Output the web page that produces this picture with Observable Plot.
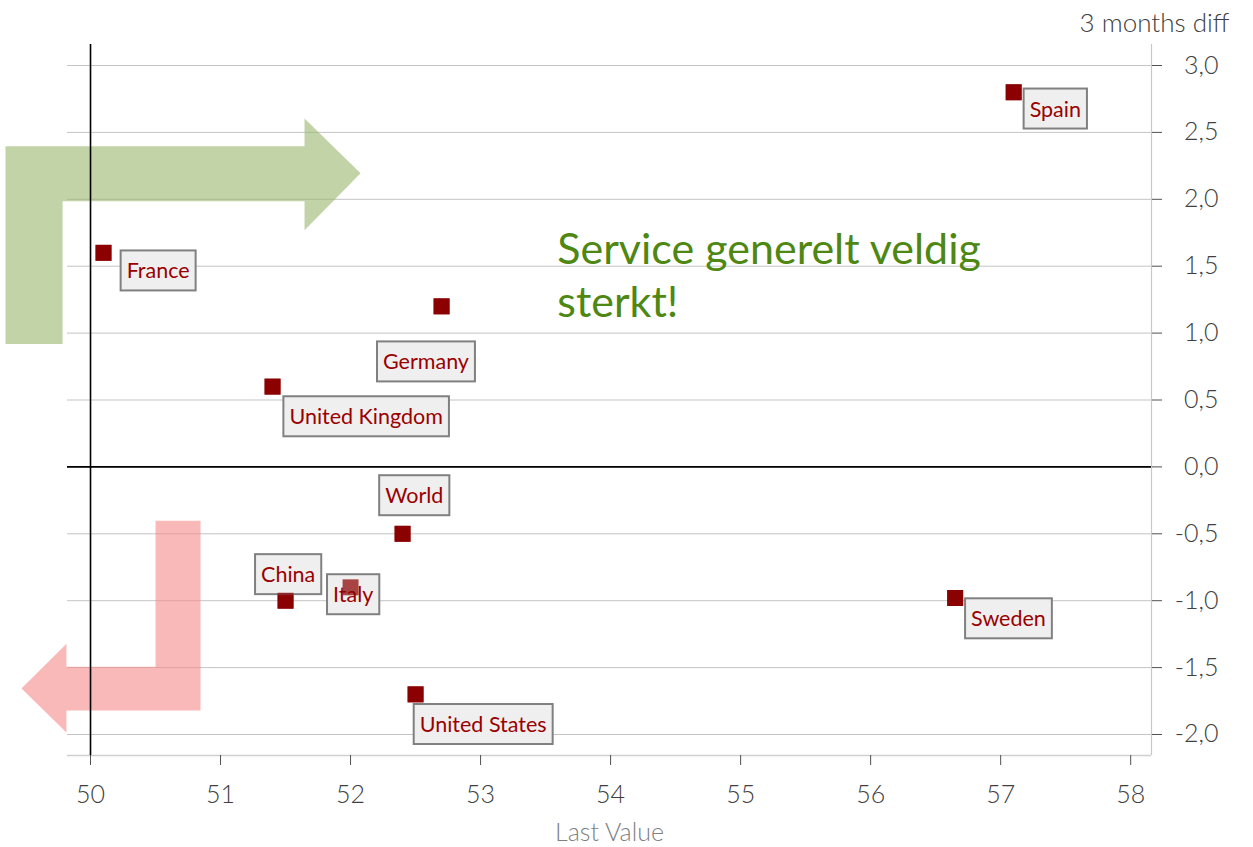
<!DOCTYPE html>
<html>
<head>
<meta charset="utf-8">
<script src="https://cdn.jsdelivr.net/npm/d3@7"></script>
<script src="https://cdn.jsdelivr.net/npm/@observablehq/plot@0.6"></script>
<style>
  html, body { margin: 0; padding: 0; background: #fff; }
  #chart svg { display: block; }
</style>
</head>
<body>
<div id="chart"></div>
<script>
// ---- data ----
const countries = ["Spain", "France", "Germany", "United Kingdom", "World", "China", "Italy", "Sweden", "United States"];
const lastValue = [57.1, 50.1, 52.7, 51.4, 52.4, 51.5, 52.0, 56.65, 52.5];
const diff3m    = [2.8, 1.6, 1.2, 0.6, -0.5, -1.0, -0.9, -0.98, -1.7];
// label box centres (data units)
const labelX = [57.42, 50.52, 52.58, 52.12, 52.49, 51.52, 52.02, 57.06, 53.02];
const labelY = [2.67, 1.46, 0.78, 0.37, -0.22, -0.81, -0.96, -1.14, -1.93];

const xTicks = [50, 51, 52, 53, 54, 55, 56, 57, 58];
const yTicks = [-2.0, -1.5, -1.0, -0.5, 0.0, 0.5, 1.0, 1.5, 2.0, 2.5, 3.0];
const xDomain = [49.823, 58.16];
const yDomain = [-2.157, 3.157];

// annotation arrows (data units)
const greenArrowX = [49.346, 49.346, 51.646, 51.646, 52.077, 51.646, 51.646, 49.785, 49.785];
const greenArrowY = [0.918, 2.396, 2.396, 2.604, 2.194, 1.769, 1.985, 1.985, 0.918];
const redArrowX = [50.846, 50.846, 50.5, 50.5, 49.815, 49.815, 49.469, 49.815, 49.815];
const redArrowY = [-1.821, -0.403, -0.403, -1.493, -1.493, -1.321, -1.657, -1.985, -1.821];

const annotationText = "Service generelt veldig\nsterkt!";
const annotationX = 53.59;
const annotationY = 1.80;
const xLabel = "Last Value";
const yLabel = "3 months diff";

// ---- build tables ----
const points = countries.map((c, i) => ({name: c, x: lastValue[i], y: diff3m[i], lx: labelX[i], ly: labelY[i]}));
const greenArrow = greenArrowX.map((x, i) => ({x, y: greenArrowY[i]}));
const redArrow = redArrowX.map((x, i) => ({x, y: redArrowY[i]}));

const fmt = d => d.toFixed(1).replace(".", ",");
const font = "Lato, 'Open Sans', sans-serif";

const chart = Plot.plot({
  width: 1253,
  height: 847,
  marginTop: 44,
  marginRight: 102,
  marginBottom: 92,
  marginLeft: 67,
  style: {fontFamily: font, background: "#fff"},
  x: {domain: xDomain},
  y: {domain: yDomain},
  marks: [
    Plot.gridY(yTicks, {stroke: "#c4c4c4", strokeOpacity: 1, strokeWidth: 1}),
    Plot.ruleY([yDomain[0]], {stroke: "#d0d0d0", strokeWidth: 1.5}),
    Plot.ruleX([xDomain[1]], {stroke: "#c8c8c8", strokeWidth: 1.2}),
    Plot.axisX({ticks: xTicks, tickSize: 10, tickPadding: 20, fontSize: 25, fontWeight: 300,
      color: "#404040", stroke: "#505050", label: null, tickFormat: d => String(d)}),
    Plot.axisY({anchor: "right", ticks: yTicks, tickSize: 10, tickPadding: 57, textAnchor: "end",
      fontSize: 25, fontWeight: 300, color: "#404040", stroke: "#505050", label: null, tickFormat: fmt}),
    Plot.line(greenArrow, {x: "x", y: "y", fill: "#99b66e", fillOpacity: 0.6, stroke: "none"}),
    Plot.line(redArrow, {x: "x", y: "y", fill: "#f78a8a", fillOpacity: 0.6, stroke: "none"}),
    Plot.ruleY([0], {stroke: "#000", strokeWidth: 1.6}),
    Plot.ruleX([50], {stroke: "#000", strokeWidth: 1.6}),
    Plot.dot(points, {x: "x", y: "y", symbol: "square", r: 9, fill: "#8b0000", stroke: "none"}),
    Plot.text(points, {x: "lx", y: "ly", text: "name", fontSize: 21.5, fill: "#9a0000"}),
    Plot.dot(points, {x: "x", y: "y", symbol: "square", r: 9, fill: "#8b0000", fillOpacity: 0.72, stroke: "none"}),
    Plot.text([annotationText], {x: () => annotationX, y: () => annotationY, text: d => d, textAnchor: "start",
      lineAnchor: "top", lineHeight: 1.23, fontSize: 43, fill: "#4e8712"}),
    Plot.text([yLabel], {frameAnchor: "top-right", text: d => d, textAnchor: "end", dx: 78, dy: -31,
      fontSize: 26, fontWeight: 300, fill: "#404040"}),
    Plot.text([xLabel], {frameAnchor: "bottom", text: d => d, dy: 85, fontSize: 25, fontWeight: 300, fill: "#7f7f7f"})
  ]
});

document.getElementById("chart").append(chart);

// draw label boxes behind each country label text
const nameSet = new Set(countries);
d3.select(chart).selectAll("text").filter(function () {
  return nameSet.has(this.textContent) && this.parentNode.tagName === "g";
}).each(function () {
  const b = this.getBBox();
  const padX = 6, padY = 7;
  const rect = document.createElementNS("http://www.w3.org/2000/svg", "rect");
  rect.setAttribute("x", b.x - padX);
  rect.setAttribute("y", b.y - padY);
  rect.setAttribute("width", b.width + 2 * padX);
  rect.setAttribute("height", b.height + 2 * padY);
  rect.setAttribute("fill", "#efefef");
  rect.setAttribute("stroke", "#808080");
  rect.setAttribute("stroke-width", 2);
  const t = this.getAttribute("transform");
  if (t) rect.setAttribute("transform", t);
  this.parentNode.insertBefore(rect, this);
});
</script>
</body>
</html>
